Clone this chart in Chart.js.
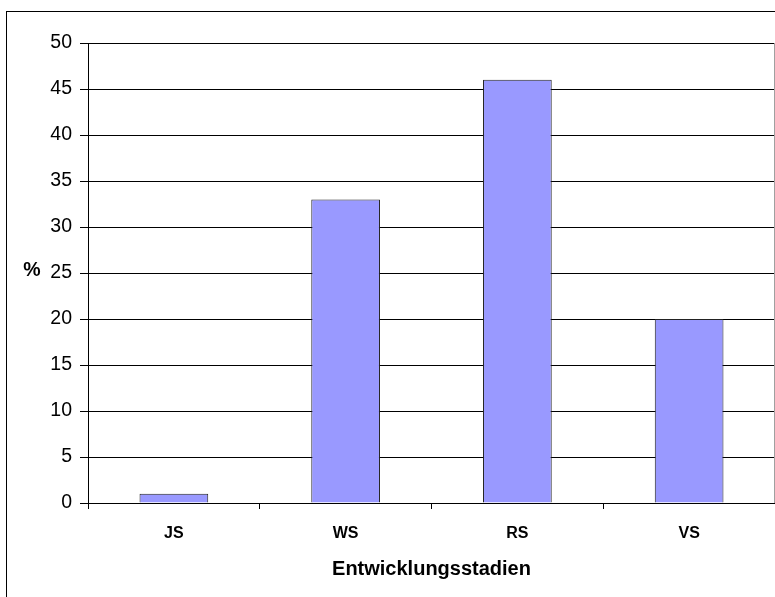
<!DOCTYPE html>
<html>
<head>
<meta charset="utf-8">
<script src="https://cdn.jsdelivr.net/npm/chart.js@4/dist/chart.umd.min.js"></script>
<style>
  html, body { margin: 0; padding: 0; background: #fff; }
  #wrap { width: 775px; height: 597px; position: relative; }
</style>
</head>
<body>
<div id="wrap"><canvas id="c" width="775" height="597"></canvas></div>
<script>
// Anteil der Entwicklungsstadien in Prozent
const stages = ['JS', 'WS', 'RS', 'VS'];
const percent = [1, 33, 46, 20];
const yTicks = [0, 5, 10, 15, 20, 25, 30, 35, 40, 45, 50];

const FONT = '"Liberation Sans", Arial, sans-serif';

// Rahmen um das Diagramm, rechte Plotkante und "%"-Beschriftung
const frame = {
  id: 'frame',
  afterDraw(chart) {
    const ctx = chart.ctx;
    const a = chart.chartArea;
    ctx.save();
    ctx.strokeStyle = '#000';
    ctx.lineWidth = 1;
    ctx.strokeRect(6.5, 11.5, 800, 620);
    ctx.strokeStyle = '#a0a0a0';
    ctx.beginPath();
    ctx.moveTo(a.right - 0.5, a.top);
    ctx.lineTo(a.right - 0.5, a.bottom);
    ctx.stroke();
    ctx.fillStyle = '#000';
    ctx.font = 'bold 19.5px ' + FONT;
    ctx.textAlign = 'center';
    ctx.textBaseline = 'middle';
    ctx.fillText('%', 32, 271);
    ctx.restore();
  }
};

new Chart(document.getElementById('c'), {
  type: 'bar',
  data: {
    labels: stages,
    datasets: [{
      data: percent,
      backgroundColor: '#9999FF',
      borderColor: '#222',
      borderWidth: 1,
      categoryPercentage: 1,
      barPercentage: 0.4
    }]
  },
  options: {
    responsive: false,
    animation: false,
    layout: { padding: { left: 0, top: 43, right: 0, bottom: 0 } },
    plugins: { legend: { display: false }, tooltip: { enabled: false } },
    scales: {
      x: {
        grid: {
          display: true,
          drawOnChartArea: false,
          drawTicks: true,
          tickLength: 6,
          color: '#000',
          offset: true
        },
        border: { display: true, color: '#000', width: 1 },
        ticks: {
          color: '#000',
          padding: 15,
          maxRotation: 0,
          font: { family: FONT, size: 16, weight: 'bold' }
        },
        title: {
          display: true,
          text: 'Entwicklungsstadien',
          color: '#000',
          font: { family: FONT, size: 20, weight: 'bold' },
          padding: { top: 4, bottom: 16 }
        },
        afterFit(scale) { scale.height = 94; }
      },
      y: {
        min: 0,
        max: 50,
        afterBuildTicks(scale) { scale.ticks = yTicks.map(v => ({ value: v })); },
        grid: {
          color: '#000',
          lineWidth: 1,
          drawTicks: true,
          tickLength: 8
        },
        border: { display: true, color: '#000', width: 1 },
        ticks: {
          color: '#000',
          padding: 8,
          font: { family: FONT, size: 19.5 }
        },
        afterFit(scale) { scale.width = 88; }
      }
    }
  },
  plugins: [frame]
});
</script>
</body>
</html>
